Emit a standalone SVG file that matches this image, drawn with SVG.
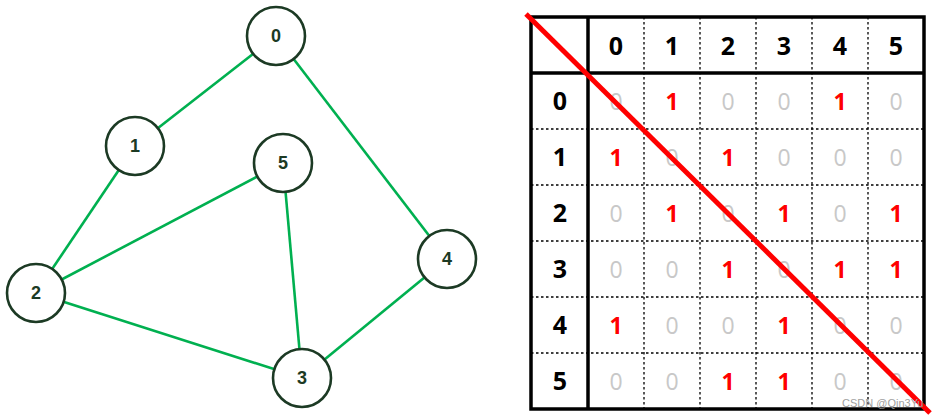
<svg xmlns="http://www.w3.org/2000/svg" width="937" height="420" viewBox="0 0 937 420">
<style>
.edge{stroke:#00b050;stroke-width:2.6;fill:none}
.node circle{fill:#fff;stroke:#1c3a24;stroke-width:2.6}
.node text{font-family:"Liberation Sans",Arial,sans-serif;font-weight:bold;font-size:18px;fill:#1c3a24;text-anchor:middle}
.hd{font-family:"Open Sans","Liberation Sans",sans-serif;font-weight:bold;font-size:25px;fill:#000;text-anchor:middle}
.z{font-family:"Open Sans","Liberation Sans",sans-serif;font-size:23px;fill:#c8c8c8;text-anchor:middle}
.o{font-family:"Open Sans","Liberation Sans",sans-serif;font-weight:bold;font-size:23px;fill:#ff0000;text-anchor:middle}
.dot{stroke:#000;stroke-width:1.3;stroke-dasharray:2.5 2.5}
.thick{stroke:#000;stroke-width:3.5;fill:none}
</style>
<rect width="937" height="420" fill="#fff"/>
<g id="edges">
<line class="edge" x1="276" y1="36" x2="135" y2="146"/>
<line class="edge" x1="276" y1="36" x2="447" y2="259"/>
<line class="edge" x1="135" y1="146" x2="36" y2="293"/>
<line class="edge" x1="36" y1="293" x2="283" y2="163"/>
<line class="edge" x1="36" y1="293" x2="302" y2="378"/>
<line class="edge" x1="283" y1="163" x2="302" y2="378"/>
<line class="edge" x1="302" y1="378" x2="447" y2="259"/>
</g>
<g id="n0" class="node"><circle cx="276" cy="36" r="29"/><text x="276" y="42">0</text></g>
<g id="n1" class="node"><circle cx="135" cy="146" r="29"/><text x="135" y="152">1</text></g>
<g id="n2" class="node"><circle cx="36" cy="293" r="29"/><text x="36" y="299">2</text></g>
<g id="n3" class="node"><circle cx="302" cy="378" r="29"/><text x="302" y="384">3</text></g>
<g id="n4" class="node"><circle cx="447" cy="259" r="29"/><text x="447" y="265">4</text></g>
<g id="n5" class="node"><circle cx="283" cy="163" r="29"/><text x="283" y="169">5</text></g>
<g id="table">
<g class="dot">
<line x1="644" y1="17" x2="644" y2="409"/>
<line x1="700" y1="17" x2="700" y2="409"/>
<line x1="756" y1="17" x2="756" y2="409"/>
<line x1="812" y1="17" x2="812" y2="409"/>
<line x1="868" y1="17" x2="868" y2="409"/>
<line x1="531" y1="129" x2="924" y2="129"/>
<line x1="531" y1="185" x2="924" y2="185"/>
<line x1="531" y1="241" x2="924" y2="241"/>
<line x1="531" y1="297" x2="924" y2="297"/>
<line x1="531" y1="353" x2="924" y2="353"/>
</g>
<rect class="thick" x="531" y="17" width="393" height="392"/>
<line class="thick" x1="588" y1="17" x2="588" y2="409"/>
<line class="thick" x1="531" y1="73" x2="924" y2="73"/>
<g class="hd">
<text x="616" y="55">0</text><text x="672" y="55">1</text><text x="728" y="55">2</text><text x="784" y="55">3</text><text x="840" y="55">4</text><text x="896" y="55">5</text>
<text x="560" y="110">0</text><text x="560" y="166">1</text><text x="560" y="222">2</text><text x="560" y="278">3</text><text x="560" y="334">4</text><text x="560" y="390">5</text>
</g>
<text class="z" x="616" y="110">0</text><text class="o" x="672" y="110">1</text><text class="z" x="728" y="110">0</text><text class="z" x="784" y="110">0</text><text class="o" x="840" y="110">1</text><text class="z" x="896" y="110">0</text>
<text class="o" x="616" y="166">1</text><text class="z" x="672" y="166">0</text><text class="o" x="728" y="166">1</text><text class="z" x="784" y="166">0</text><text class="z" x="840" y="166">0</text><text class="z" x="896" y="166">0</text>
<text class="z" x="616" y="222">0</text><text class="o" x="672" y="222">1</text><text class="z" x="728" y="222">0</text><text class="o" x="784" y="222">1</text><text class="z" x="840" y="222">0</text><text class="o" x="896" y="222">1</text>
<text class="z" x="616" y="278">0</text><text class="z" x="672" y="278">0</text><text class="o" x="728" y="278">1</text><text class="z" x="784" y="278">0</text><text class="o" x="840" y="278">1</text><text class="o" x="896" y="278">1</text>
<text class="o" x="616" y="334">1</text><text class="z" x="672" y="334">0</text><text class="z" x="728" y="334">0</text><text class="o" x="784" y="334">1</text><text class="z" x="840" y="334">0</text><text class="z" x="896" y="334">0</text>
<text class="z" x="616" y="390">0</text><text class="z" x="672" y="390">0</text><text class="o" x="728" y="390">1</text><text class="o" x="784" y="390">1</text><text class="z" x="840" y="390">0</text><text class="z" x="896" y="390">0</text>
<line x1="526" y1="14" x2="930" y2="413" stroke="#ff0000" stroke-width="5"/>
<text x="842" y="407" font-family="Liberation Sans,sans-serif" font-size="11" fill="#a0a0a0">CSDN @Qin3Yu</text>
</g>
</svg>
